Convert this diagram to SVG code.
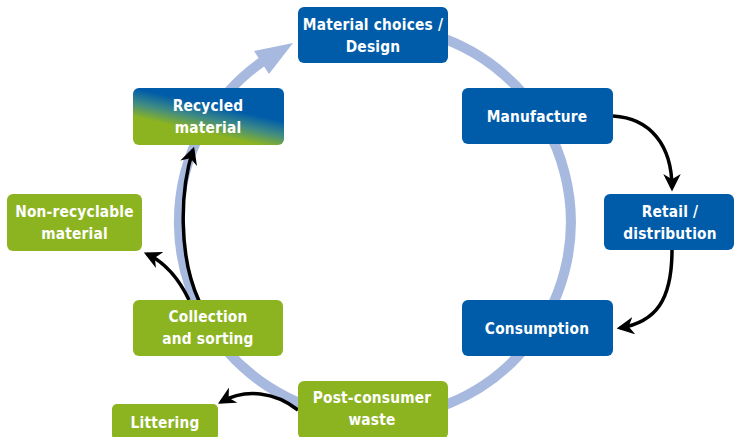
<svg xmlns="http://www.w3.org/2000/svg" width="735" height="437" viewBox="0 0 735 437">
<style>
.blue{fill:#005ca9}
.green{fill:#8cb421}
.lbl{font-family:"DejaVu Sans Condensed","DejaVu Sans",sans-serif;font-weight:bold;font-size:15.3px;fill:#ffffff;text-anchor:middle;letter-spacing:0.2px}
.ring{fill:none;stroke:#a8b9df;stroke-width:10}
.arr{fill:none;stroke:#000;stroke-width:3.5;marker-end:url(#ah)}
</style>
<defs>
<marker id="ah" viewBox="0 0 10 10" refX="8" refY="5" markerWidth="5" markerHeight="5" orient="auto" markerUnits="strokeWidth">
<path d="M0,0 L10,5 L0,10 L3,5 z" fill="#000"/>
</marker>
<linearGradient id="rg" gradientUnits="userSpaceOnUse" x1="204" y1="137" x2="212" y2="101">
<stop offset="0.12" stop-color="#8cb421"/>
<stop offset="0.5" stop-color="#3f8b84"/>
<stop offset="0.88" stop-color="#005ca9"/>
</linearGradient>
</defs>
<g id="connectors">
<path class="ring" d="M341,29 A196,196 0 1 1 262.6,61.4"/>
<polygon points="254,51 269,74 293,43" fill="#a8b9df"/>
<path class="arr" d="M613,116 C650,118 672,145 672,188"/>
<path class="arr" d="M672,250 C672,300 656,322 620,328"/>
<path class="arr" d="M199,301 C178,255 180,190 193,150"/>
<path class="arr" d="M189,300 C179,279 166,263 147,254"/>
<path class="arr" d="M298,410 C275,392 246,388 221,402"/>
</g>
<g id="material">
<rect class="blue" x="298" y="7" width="150" height="56" rx="6"/>
<text class="lbl" x="373" y="29.5">Material choices /</text>
<text class="lbl" x="373" y="51.5">Design</text>
</g>
<g id="manufacture">
<rect class="blue" x="462" y="88" width="151" height="56" rx="6"/>
<text class="lbl" x="537" y="121.5">Manufacture</text>
</g>
<g id="retail">
<rect class="blue" x="604" y="194" width="130" height="56" rx="6"/>
<text class="lbl" x="670" y="217">Retail /</text>
<text class="lbl" x="670" y="238.5">distribution</text>
</g>
<g id="consumption">
<rect class="blue" x="462" y="300" width="151" height="56" rx="6"/>
<text class="lbl" x="537" y="333.5">Consumption</text>
</g>
<g id="postconsumer">
<rect class="green" x="298" y="381" width="150" height="58" rx="6"/>
<text class="lbl" x="372" y="403">Post-consumer</text>
<text class="lbl" x="372" y="424.5">waste</text>
</g>
<g id="littering">
<rect class="green" x="112" y="404" width="106" height="36" rx="5"/>
<text class="lbl" x="165" y="427.5">Littering</text>
</g>
<g id="collection">
<rect class="green" x="133" y="300" width="150" height="56" rx="6"/>
<text class="lbl" x="208" y="322">Collection</text>
<text class="lbl" x="208" y="344">and sorting</text>
</g>
<g id="nonrecyclable">
<rect class="green" x="7" y="194" width="135" height="57" rx="6"/>
<text class="lbl" x="74.5" y="217">Non-recyclable</text>
<text class="lbl" x="74.5" y="238.5">material</text>
</g>
<g id="recycled">
<rect x="133" y="88" width="151" height="57" rx="6" fill="url(#rg)"/>
<text class="lbl" x="208" y="111">Recycled</text>
<text class="lbl" x="208" y="132.5">material</text>
</g>
</svg>
